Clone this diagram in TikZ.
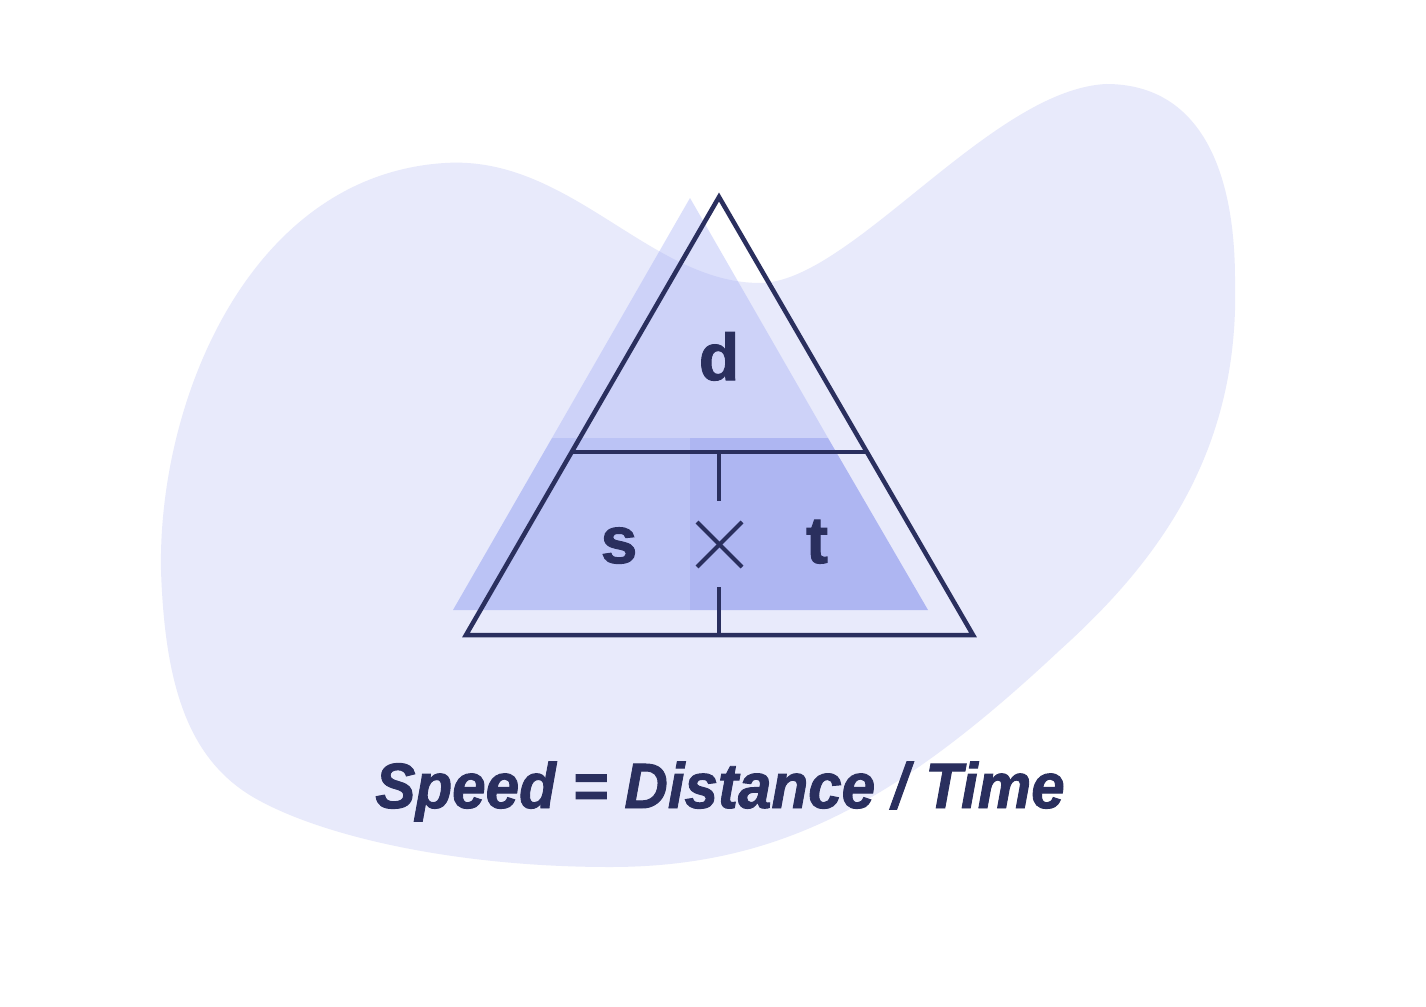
\documentclass[tikz,border=0pt]{standalone}
\usepackage{fontspec}
\setmainfont{Liberation Sans}
\newfontfamily\heavyfont{Liberation Sans}[FakeBold=1.5]
\definecolor{blobc}{HTML}{E8EAFB}
\definecolor{shadec}{HTML}{9AA5F5}
\definecolor{botl}{HTML}{BBC3F5}
\definecolor{botr}{HTML}{AEB6F2}
\definecolor{ink}{HTML}{2A2F5E}
\tikzset{
  outline/.style={draw=ink, line width=4.5pt},
  letter/.style={text=ink, font=\heavyfont\fontsize{66}{70}\selectfont\bfseries, anchor=base, inner sep=0pt},
  title/.style={text=ink, font=\heavyfont\fontsize{64}{70}\selectfont\bfseries\itshape, anchor=base, inner sep=0pt, xscale=0.94},
}
\begin{document}
\begin{tikzpicture}[x=1pt,y=-1pt]
\useasboundingbox (0,0) rectangle (1426,1006);
\fill[white] (0,0) rectangle (1426,1006);
% background blob
\fill[blobc] (161,570)
  .. controls (158,400) and (250,175) .. (445,163)
  .. controls (570,155) and (650,283) .. (760,283)
  .. controls (850,283) and (990,90) .. (1106,84)
  .. controls (1200,84) and (1235,170) .. (1235,280)
  .. controls (1240,450) and (1160,560) .. (1060,650)
  .. controls (900,800) and (780,867) .. (610,867)
  .. controls (460,867) and (330,838) .. (262,802)
  .. controls (190,765) and (165,690) .. (161,570) -- cycle;
% shaded triangle
\coordinate (sa) at (690,198);
\coordinate (sl) at (453,610);
\coordinate (sr) at (928,610);
\coordinate (sml) at (552,438);
\coordinate (smr) at (828,438);
\coordinate (smc) at (690,438);
\coordinate (sbc) at (690,610);
\fill[shadec, opacity=0.34] (sa) -- (smr) -- (sml) -- cycle;
\fill[botl] (sml) -- (smc) -- (sbc) -- (sl) -- cycle;
\fill[botr] (smc) -- (smr) -- (sr) -- (sbc) -- cycle;
% outline triangle
\coordinate (A) at (719,197);
\coordinate (L) at (466,635);
\coordinate (R) at (973,635);
\coordinate (ML) at (572,452);
\coordinate (MR) at (866,452);
\coordinate (MC) at (719,452);
\coordinate (T1) at (719,501);
\coordinate (T2) at (719,587);
\coordinate (BC) at (719,635);
\coordinate (X1) at (697,522);
\coordinate (X2) at (742,567);
\coordinate (X3) at (742,522);
\coordinate (X4) at (697,567);
\draw[outline, line join=miter] (A) -- (R) -- (L) -- cycle;
\draw[outline] (ML) -- (MR);
\draw[outline] (MC) -- (T1);
\draw[outline] (T2) -- (BC);
\draw[draw=ink, line width=4pt] (X1) -- (X2);
\draw[draw=ink, line width=4pt] (X3) -- (X4);
% letters
\node[letter] (d) at (719,380) {d};
\node[letter] (s) at (619,563) {s};
\node[letter] (t) at (817,563) {t};
% title
\node[title] (ttl) at (720,808) {Speed = Distance / Time};
\end{tikzpicture}
\end{document}
